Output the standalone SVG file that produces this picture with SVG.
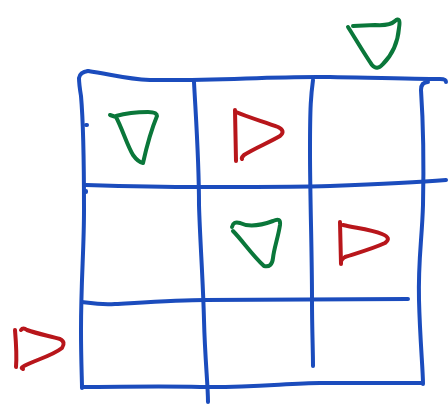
<svg xmlns="http://www.w3.org/2000/svg" width="448" height="411" viewBox="0 0 448 411">
<style>
.g{fill:none;stroke:#1b4cbd;stroke-width:4;stroke-linecap:round;stroke-linejoin:round}
.gr{fill:none;stroke:#0a773a;stroke-width:4;stroke-linecap:round;stroke-linejoin:round}
.rd{fill:none;stroke:#b8161b;stroke-width:4;stroke-linecap:round;stroke-linejoin:round}
</style>
<rect width="448" height="411" fill="#ffffff"/>
<g id="grid">
<path class="g" d="M88,71 C110,74 125,79 150,80 C220,81 270,76 330,77 C380,78 420,79 440,79 Q446,79 446,82"/>
<path class="g" d="M88,71 Q80,72 79,78 Q79,84 81,96 C84,130 84,170 84,210 C84,250 81,280 81,330 C81,360 82,380 82,388"/>
<path class="g" d="M87,125 L86,125"/>
<path class="g" d="M194,82 C196,120 199,160 199,205 C200,240 203,280 204,320 C205,360 208,385 208,402"/>
<path class="g" d="M313,80 C311,95 310,105 310,150 C310,200 312,250 312,300 C312,330 313,350 313,366"/>
<path class="g" d="M428,82 Q421,82 421,90 C423,120 424,160 423,205 C422,240 418,260 419,300 C420,340 423,370 423,384"/>
<path class="g" d="M86,185 C120,186 160,187 200,187 C260,187 300,187 330,186 C380,184 420,182 446,180"/>
<path class="g" d="M86,192 L86,191"/>
<path class="g" d="M82,302 C90,303 100,305 115,304 C150,302 180,300 205,300 C280,299 350,299 408,299"/>
<path class="g" d="M82,387 C120,387 160,386 200,387 C250,388 290,383 320,383 C370,383 400,383 422,383"/>
</g>
<g id="triangle-top-right">
<path class="gr" d="M348,27 C355,38 365,55 372,65 Q377,71 383,64 C395,52 398,40 399,28 Q401,16 395,21 Q390,26 375,25 L353,26"/>
</g>
<g id="triangle-green-1">
<path class="gr" d="M110,115 L116,117 C122,128 127,145 133,155 Q138,162 143,163 C147,145 152,128 157,116 Q157,112 148,112 C135,112 123,114 116,116"/>
</g>
<g id="triangle-green-2">
<path class="gr" d="M232,227 Q233,221 240,223 C250,228 262,225 273,221 Q281,217 280,225 C278,238 274,248 273,258 Q272,268 264,266 C252,255 242,240 233,231"/>
</g>
<g id="triangle-red-1">
<path class="rd" d="M235,110 L236,161"/>
<path class="rd" d="M236,112 C250,118 265,122 278,127 Q286,131 280,136 C268,143 255,148 244,155 Q241,158 242,159"/>
</g>
<g id="triangle-red-2">
<path class="rd" d="M340,222 L341,264"/>
<path class="rd" d="M343,225 C355,228 370,229 382,234 Q392,238 385,243 C372,249 357,253 345,257 Q341,260 341,262"/>
</g>
<g id="triangle-red-3">
<path class="rd" d="M15,330 C16,342 17,355 16,367"/>
<path class="rd" d="M21,330 Q23,327 27,330 C38,334 50,336 60,339 Q66,342 62,348 C52,356 35,360 24,366 Q20,368 23,369"/>
</g>
</svg>
